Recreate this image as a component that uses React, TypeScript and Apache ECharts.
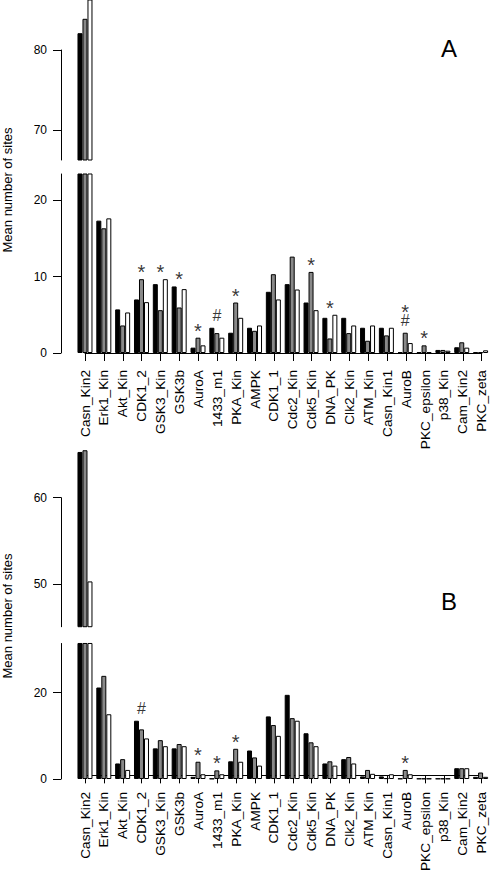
import React, { useEffect, useRef } from "react";
import * as echarts from "echarts";

const categories = [
  "Casn_Kin2", "Erk1_Kin", "Akt_Kin", "CDK1_2", "GSK3_Kin", "GSK3b", "AuroA", "1433_m1",
  "PKA_Kin", "AMPK", "CDK1_1", "Cdc2_Kin", "Cdk5_Kin", "DNA_PK", "Clk2_Kin", "ATM_Kin",
  "Casn_Kin1", "AuroB", "PKC_epsilon", "p38_Kin", "Cam_Kin2", "PKC_zeta",
];

// Panel A
const aBlack = [82.1, 17.3, 5.7, 7.0, 9.0, 8.7, 0.7, 3.3, 2.65, 3.3, 8.0, 9.0, 6.6, 4.6, 4.6, 3.3, 3.3, 0.1, 0.1, 0.4, 0.75, 0.1];
const aGray = [83.9, 16.3, 3.6, 9.65, 5.6, 5.95, 2.0, 2.6, 6.6, 2.9, 10.3, 12.6, 10.6, 1.9, 2.6, 1.6, 2.3, 2.65, 1.0, 0.4, 1.4, 0.1];
const aWhite = [88.0, 17.6, 5.3, 6.65, 9.65, 8.35, 1.0, 2.0, 4.6, 3.6, 7.0, 8.3, 5.6, 5.0, 3.6, 3.6, 3.3, 1.3, 0.1, 0.3, 0.7, 0.35];
const aMarks = ["", "", "", "*", "*", "*", "*", "#", "*", "", "", "", "*", "*", "", "", "", "*\n#", "*", "", "", ""];
const aUpperTicks = [70, 80];
const aLowerTicks = [0, 10, 20];

// Panel B
const bBlack = [65.3, 21.2, 3.6, 13.5, 7.1, 7.1, 0.5, 0.1, 4.1, 6.6, 14.5, 19.5, 10.6, 3.6, 4.6, 0.6, 0.6, 0.1, 0.1, 0.1, 2.5, 0.5];
const bGray = [65.5, 23.9, 4.6, 11.5, 9.0, 8.1, 4.0, 2.0, 7.0, 5.0, 12.5, 14.1, 8.5, 4.1, 5.1, 2.1, 0.2, 2.1, 0.1, 0.1, 2.5, 1.5];
const bWhite = [50.3, 15.0, 2.1, 9.4, 7.6, 7.6, 1.1, 1.1, 4.0, 3.1, 10.0, 13.5, 7.6, 3.1, 3.6, 1.2, 1.1, 1.1, 0.1, 0.1, 2.5, 0.5];
const bMarks = ["", "", "", "#", "", "", "*", "*", "*", "", "", "", "", "", "", "", "", "*", "", "", "", ""];
const bUpperTicks = [50, 60];
const bLowerTicks = [0, 20];

const FONT = "'Liberation Sans', Arial, Helvetica, sans-serif";
const COLORS = ["#000000", "#898989", "#ffffff"];

type PanelCfg = {
  series: number[][];
  marks: string[];
  upperTicks: number[];
  lowerTicks: number[];
  lowMax: number;
  upMin: number;
  upAxisMax: number;
  upBarsMax: number;
  zeroY: number;
  lowPx: number;
  upPx: number;
  upAxisTopY: number;
  xOffset: number;
  letter: string;
  letterY: number;
  titleY: number;
};

const panels: PanelCfg[] = [
  {
    series: [aBlack, aGray, aWhite],
    marks: aMarks,
    upperTicks: aUpperTicks,
    lowerTicks: aLowerTicks,
    lowMax: 23.4,
    upMin: 66.25,
    upAxisMax: 80,
    upBarsMax: 86.25,
    zeroY: 353,
    lowPx: 7.65,
    upPx: 8,
    upAxisTopY: 50,
    xOffset: 4,
    letter: "A",
    letterY: 48,
    titleY: 190,
  },
  {
    series: [bBlack, bGray, bWhite],
    marks: bMarks,
    upperTicks: bUpperTicks,
    lowerTicks: bLowerTicks,
    lowMax: 31.4,
    upMin: 45.05,
    upAxisMax: 60,
    upBarsMax: 72,
    zeroY: 779,
    lowPx: 4.316,
    upPx: 8.63,
    upAxisTopY: 497.7,
    xOffset: 3.5,
    letter: "B",
    letterY: 601,
    titleY: 616,
  },
];

const FIRST_TICK_X = 85;
const STEP = 18.89;
const N = categories.length;
const BAR_LEFT = FIRST_TICK_X - STEP / 2;
const BAR_WIDTH_TOTAL = STEP * N;
const AXIS_X = 61;

// glyph styling of significance marks
const MARK_STYLE: Record<string, { fontSize: number; lineHeight: number; lift: number }> = {
  "*": { fontSize: 20, lineHeight: 7, lift: 8.3 },
  "#": { fontSize: 16, lineHeight: 11, lift: 5.5 },
};

function buildOption() {
  const grid: any[] = [];
  const xAxis: any[] = [];
  const yAxis: any[] = [];
  const series: any[] = [];
  const graphic: any[] = [];

  panels.forEach((p, pi) => {
    const base = pi * 4;
    const upAxisH = (p.upAxisMax - p.upMin) * p.upPx;
    const upBottom = p.upAxisTopY + upAxisH;
    const upBarsH = (p.upBarsMax - p.upMin) * p.upPx;
    const lowH = p.lowMax * p.lowPx;
    const lowTop = p.zeroY - lowH;

    grid.push({ left: BAR_LEFT, width: BAR_WIDTH_TOTAL, top: upBottom - upBarsH, height: upBarsH });
    grid.push({ left: BAR_LEFT, width: BAR_WIDTH_TOTAL, top: p.upAxisTopY, height: upAxisH });
    grid.push({ left: BAR_LEFT, width: BAR_WIDTH_TOTAL, top: lowTop, height: lowH });
    grid.push({ left: FIRST_TICK_X, width: STEP * (N - 1), top: lowTop, height: lowH });

    const hiddenX = (gi: number) => ({
      type: "category",
      gridIndex: gi,
      data: categories,
      boundaryGap: true,
      show: false,
    });
    xAxis.push(hiddenX(base));
    xAxis.push(hiddenX(base + 1));
    xAxis.push(hiddenX(base + 2));
    xAxis.push({
      type: "category",
      gridIndex: base + 3,
      data: categories,
      boundaryGap: false,
      position: "bottom",
      offset: p.xOffset,
      axisLine: { show: true, lineStyle: { color: "#000", width: 1 } },
      axisTick: { show: true, length: 8, lineStyle: { color: "#000", width: 1 } },
      axisLabel: {
        show: true,
        interval: 0,
        rotate: 90,
        margin: 13,
        color: "#000",
        fontSize: 13.7,
        fontFamily: FONT,
      },
      splitLine: { show: false },
    });

    const shownY = (gi: number, min: number, max: number, ticks: number[]) => ({
      type: "value",
      gridIndex: gi,
      min,
      max,
      position: "left",
      offset: BAR_LEFT - AXIS_X,
      axisLine: { show: true, lineStyle: { color: "#000", width: 1 } },
      axisTick: { show: true, length: 8, customValues: ticks, lineStyle: { color: "#000", width: 1 } },
      axisLabel: {
        show: true,
        customValues: ticks,
        margin: 14,
        color: "#000",
        fontSize: 12,
        fontFamily: FONT,
      },
      splitLine: { show: false },
    });
    yAxis.push({ type: "value", gridIndex: base, min: p.upMin, max: p.upBarsMax, show: false });
    yAxis.push(shownY(base + 1, p.upMin, p.upAxisMax, p.upperTicks));
    yAxis.push(shownY(base + 2, 0, p.lowMax, p.lowerTicks));
    yAxis.push({ type: "value", gridIndex: base + 3, min: 0, max: 1, show: false });

    p.series.forEach((vals, si) => {
      const style = { color: COLORS[si], borderColor: "#000", borderWidth: 1 };
      series.push({
        type: "bar",
        xAxisIndex: base,
        yAxisIndex: base,
        data: vals.map((v) => (v > p.upMin ? v : "-")),
        barWidth: 5,
        barGap: "0%",
        itemStyle: style,
        clip: true,
        silent: true,
      });
      series.push({
        type: "bar",
        xAxisIndex: base + 2,
        yAxisIndex: base + 2,
        data: vals,
        barWidth: 5,
        barGap: "0%",
        itemStyle: style,
        clip: true,
        silent: true,
      });
    });

    // significance marks: one text per line, stacked upward from the tallest bar of the group
    const markData: any[] = [];
    p.marks.forEach((m, i) => {
      if (!m) return;
      const top = Math.max(p.series[0][i], p.series[1][i], p.series[2][i]);
      const lines = m.split("\n").reverse();
      lines.forEach((g, k) => {
        const st = MARK_STYLE[g];
        const target = 11.3 + 14 * k;
        markData.push({
          value: [i, top],
          label: {
            formatter: g,
            fontSize: st.fontSize,
            lineHeight: st.lineHeight,
            distance: target - st.lift,
          },
        });
      });
    });
    series.push({
      type: "scatter",
      xAxisIndex: base + 2,
      yAxisIndex: base + 2,
      symbol: "circle",
      symbolSize: 1,
      itemStyle: { color: "rgba(0,0,0,0)" },
      silent: true,
      clip: false,
      data: markData,
      labelLayout: { hideOverlap: false },
      label: {
        show: true,
        position: "top",
        color: "#000",
        fontFamily: FONT,
      },
    });

    graphic.push({
      type: "text",
      x: 449,
      y: p.letterY,
      style: {
        text: p.letter,
        fontSize: 24,
        fontFamily: FONT,
        fill: "#000",
        textAlign: "center",
        textVerticalAlign: "middle",
      },
    });
    graphic.push({
      type: "text",
      x: 7,
      y: p.titleY,
      rotation: Math.PI / 2,
      style: {
        text: "Mean number of sites",
        fontSize: 13,
        fontFamily: FONT,
        fill: "#000",
        textAlign: "center",
        textVerticalAlign: "middle",
      },
    });
  });

  return {
    animation: false,
    backgroundColor: "#ffffff",
    grid,
    xAxis,
    yAxis,
    series,
    graphic,
  };
}

export default function App() {
  const ref = useRef<HTMLDivElement>(null);
  useEffect(() => {
    document.body.style.margin = "0";
    const chart = echarts.init(ref.current as HTMLDivElement, null, { renderer: "svg" });
    chart.setOption(buildOption() as any);
    return () => chart.dispose();
  }, []);
  return <div ref={ref} style={{ width: 490, height: 874 }} />;
}
